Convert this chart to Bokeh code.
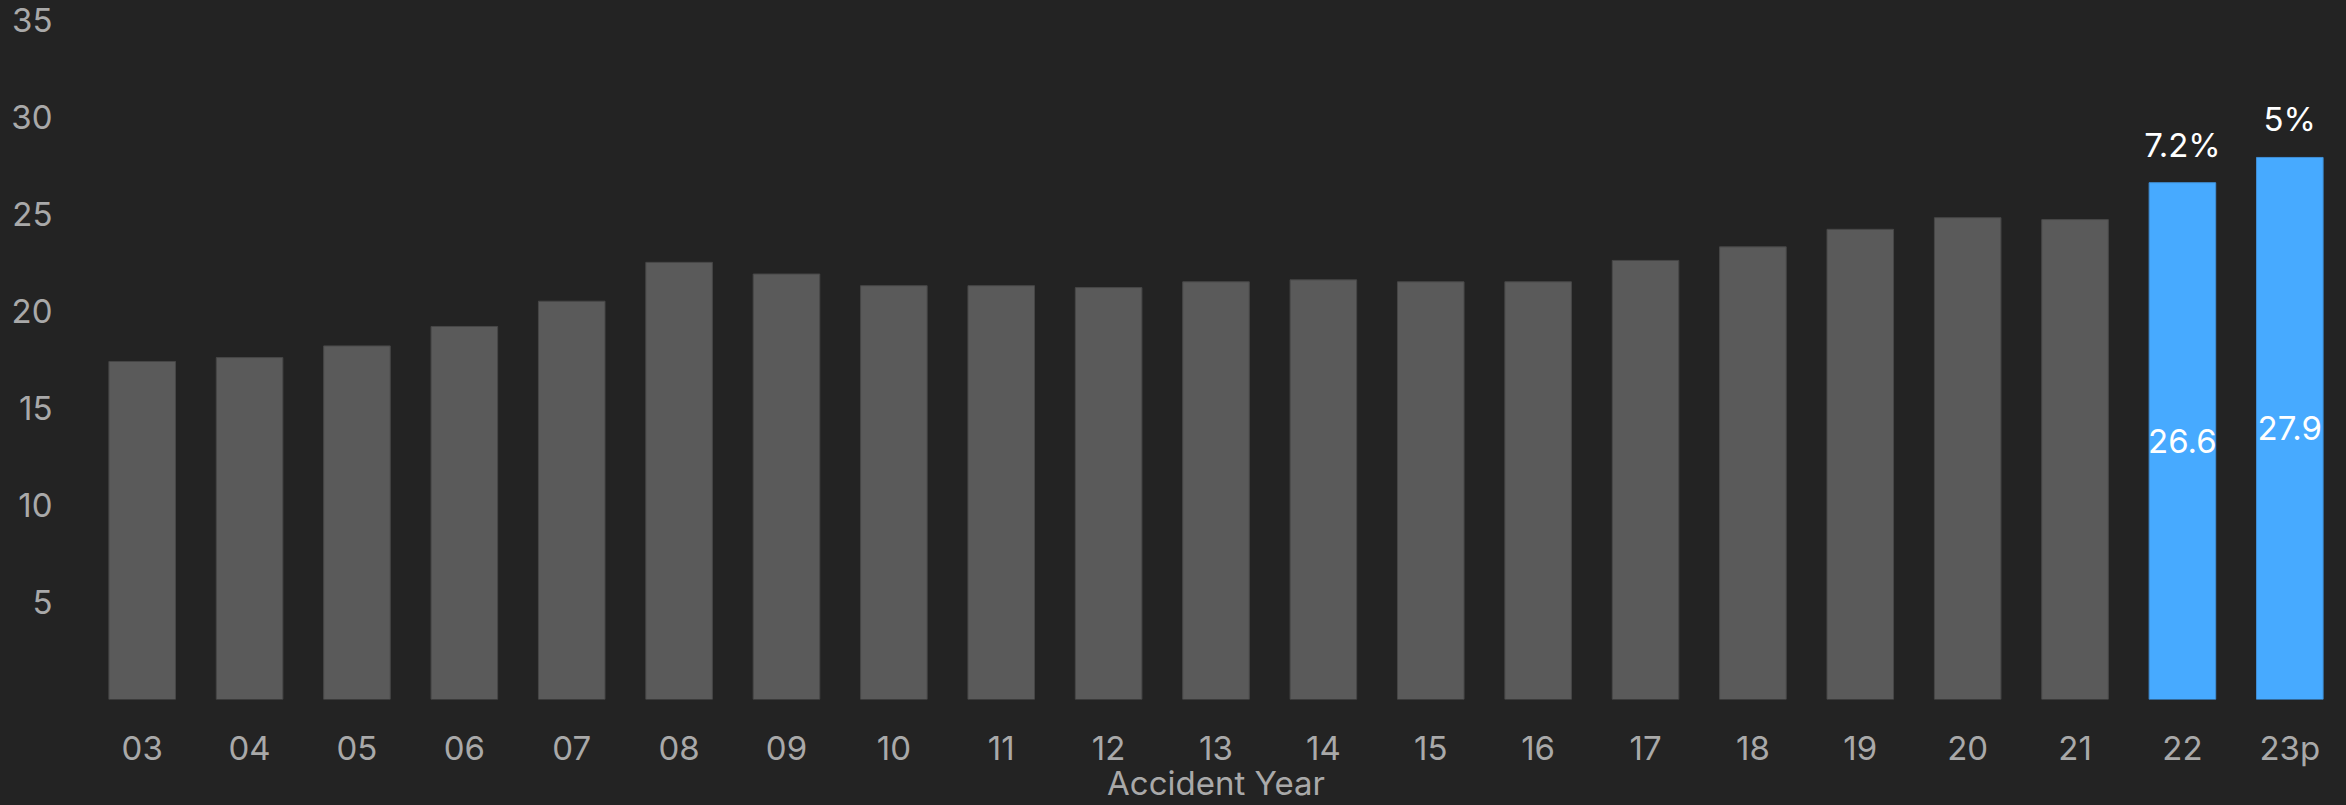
from bokeh.plotting import figure
from bokeh.models import ColumnDataSource, FixedTicker, Range1d, LabelSet
from bokeh.core.properties import value
from bokeh.embed import file_html
from bokeh.resources import INLINE

years = ["03", "04", "05", "06", "07", "08", "09", "10", "11", "12", "13",
         "14", "15", "16", "17", "18", "19", "20", "21", "22", "23p"]
values = [17.4, 17.6, 18.2, 19.2, 20.5, 22.5, 21.9, 21.3, 21.3, 21.2, 21.5,
          21.6, 21.5, 21.5, 22.6, 23.3, 24.2, 24.8, 24.7, 26.6, 27.9]
highlight_years = ["22", "23p"]
value_labels = ["26.6", "27.9"]
growth_labels = ["7.2%", "5%"]
y_ticks = [5, 10, 15, 20, 25, 30, 35]
x_title = "Accident Year"

BG = "#232323"
GRAY = "#5a5a5a"
BLUE = "#47aaff"
TXT = "#a9a9a9"
FONT = "Inter"
FS = "33px"

colors = [BLUE if y in highlight_years else GRAY for y in years]
outlines = ["#3f8fd6" if y in highlight_years else "#474747" for y in years]
src = ColumnDataSource(dict(x=years, top=values, color=colors, line=outlines))

hi_vals = [values[years.index(y)] for y in highlight_years]
hsrc = ColumnDataSource(dict(
    x=highlight_years,
    mid=[v / 2 for v in hi_vals],
    top=hi_vals,
    vlab=value_labels,
    glab=growth_labels,
))

p = figure(x_range=years, y_range=Range1d(0, 35), width=2346, height=805,
           output_backend="svg", toolbar_location=None,
           background_fill_color=None, border_fill_color=None,
           outline_line_color=None,
           min_border_left=88, min_border_right=3, min_border_top=19,
           min_border_bottom=105)
p.grid.visible = False

p.vbar(x="x", top="top", width=0.62, source=src, fill_color="color",
       line_color="line", line_width=1)

p.add_layout(LabelSet(x="x", y="mid", text="vlab", source=hsrc,
                      text_color="white", text_font=value(FONT),
                      text_font_size=value(FS), text_align="center",
                      text_baseline="middle"))
p.add_layout(LabelSet(x="x", y="top", text="glab", source=hsrc,
                      text_color="white", text_font=value(FONT),
                      text_font_size=value(FS), text_align="center",
                      text_baseline="middle", y_offset=38))

p.yaxis.ticker = FixedTicker(ticks=y_ticks)
for ax in (p.xaxis[0], p.yaxis[0]):
    ax.axis_line_color = None
    ax.major_tick_line_color = None
    ax.minor_tick_line_color = None
    ax.major_tick_out = 0
    ax.major_tick_in = 0
    ax.major_label_text_color = TXT
    ax.major_label_text_font = FONT
    ax.major_label_text_font_size = FS

p.yaxis.major_label_standoff = 36
p.xaxis.major_label_standoff = 28
p.xaxis.axis_label = x_title
p.xaxis.axis_label_text_color = TXT
p.xaxis.axis_label_text_font = FONT
p.xaxis.axis_label_text_font_size = FS
p.xaxis.axis_label_text_font_style = "normal"
p.xaxis.axis_label_standoff = -8

html = file_html(p, INLINE)
html = html.replace("<head>", "<head><style>html,body{background:%s;margin:0;}</style>" % BG, 1)
open("out.html", "w").write(html)
